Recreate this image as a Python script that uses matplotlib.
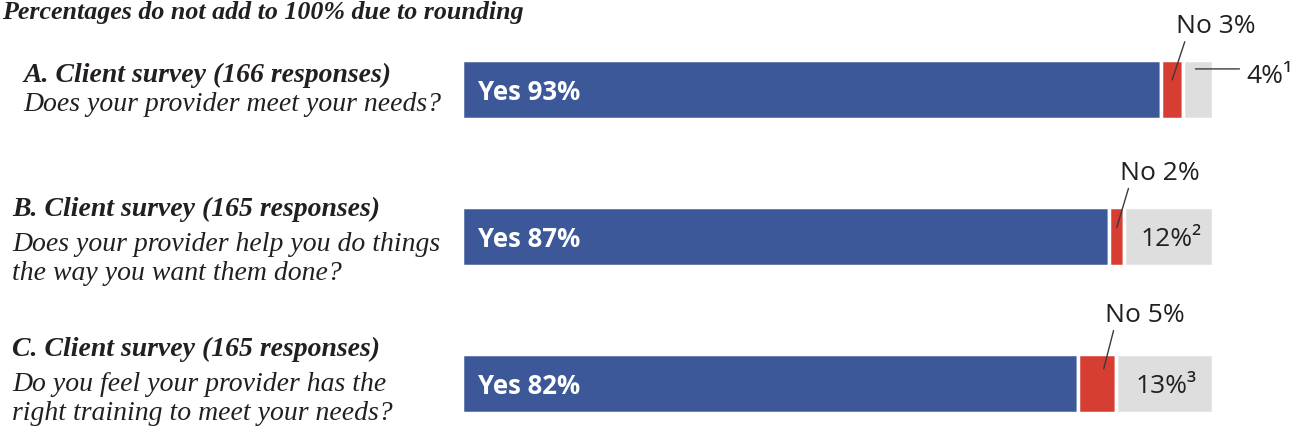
import matplotlib
matplotlib.use("Agg")
import matplotlib.pyplot as plt
import numpy as np

# ---- data ----
questions = [
    ["A. Client survey (166 responses)", "Does your provider meet your needs?"],
    ["B. Client survey (165 responses)", "Does your provider help you do things", "the way you want them done?"],
    ["C. Client survey (165 responses)", "Do you feel your provider has the", "right training to meet your needs?"],
]
yes_vals = [93, 87, 82]
no_vals = [3, 2, 5]
other_vals = [4, 12, 13]
footnotes = ["¹", "²", "³"]
note_text = "Percentages do not add to 100% due to rounding"

# ---- style ----
W, H = 1298, 434
BLUE = "#3c5898"
RED = "#d63d33"
GRAY = "#dedede"
TXT = "#231f20"
LINE = "#3a3a3a"
SERIF = "Liberation Serif"
SANS = "Open Sans"

fig = plt.figure(figsize=(W / 100, H / 100), dpi=100)
fig.patch.set_facecolor("white")

def fx(px):
    return px / W

def fy(py):
    return 1 - py / H

# bar axes
ax_left, ax_right = 461.5, 1213.5
ax_top, ax_bot = 1.3, 427.6
ax = fig.add_axes([fx(ax_left), fy(ax_bot), fx(ax_right - ax_left), (ax_bot - ax_top) / H])
ax.set_xlim(0, 100)
ax.set_ylim(2.3, -0.6)
ax.axis("off")

yes = np.array(yes_vals, float)
no = np.array(no_vals, float)
oth = np.array(other_vals, float)
tot = yes + no + oth
yes_n = yes / tot * 100
no_n = no / tot * 100
oth_n = oth / tot * 100
rows = np.arange(len(yes_vals))
bh = 0.398
ax.barh(rows, yes_n, height=bh, color=BLUE, edgecolor="white", linewidth=2.5)
ax.barh(rows, no_n, left=yes_n, height=bh, color=RED, edgecolor="white", linewidth=2.5)
ax.barh(rows, oth_n, left=yes_n + no_n, height=bh, color=GRAY, edgecolor="white", linewidth=2.5)

# Yes labels
for i in rows:
    ax.annotate(f"Yes {yes_vals[i]}%", xy=(0, i), xytext=(16, -3), textcoords="offset pixels",
                ha="left", va="center", color="white", fontsize=18.5, fontweight="bold",
                family=SANS)

# No labels with leader lines (label offsets in pixels from end point)
no_tip_dy = [-0.065, -0.06, -0.1]
no_tip_dx = [0.0, 0.0, 0.9]
no_lab_off = [(4, 41), (3, 42), (1, 41)]
for i in rows:
    xr = yes_n[i] + no_n[i] / 2 + no_tip_dx[i]
    ax.annotate(f"No {no_vals[i]}%", xy=(xr, i + no_tip_dy[i]),
                xytext=no_lab_off[i], textcoords="offset pixels",
                ha="left", va="bottom", color=TXT, fontsize=19, family=SANS,
                arrowprops=dict(arrowstyle="-", color=LINE, lw=1.0,
                                shrinkA=0, shrinkB=0, relpos=(0.12, 0.0)))

# Other labels
i = 0
xg = yes_n[i] + no_n[i] + 1.6
yl = i - 0.14
ax.annotate("", xy=(xg, yl), xytext=(44, 0), textcoords="offset pixels",
            arrowprops=dict(arrowstyle="-", color=LINE, lw=1.0, shrinkA=0, shrinkB=0))
ax.annotate(f"{other_vals[i]}%{footnotes[i]}", xy=(xg, yl), xytext=(51, -14),
            textcoords="offset pixels", ha="left", va="baseline", color=TXT, fontsize=19,
            family=SANS)
for i in rows[1:]:
    xg = yes_n[i] + no_n[i] + oth_n[i] / 2
    ax.annotate(f"{other_vals[i]}%{footnotes[i]}", xy=(xg, i), xytext=(2, -3),
                textcoords="offset pixels", ha="center", va="center", color=TXT,
                fontsize=19, family=SANS)

# left question text (baselines in pixels)
left_x = [23, 12, 12]
baselines = [[82, 111], [216, 251, 280], [356, 391, 420]]
for q, lx, bls in zip(questions, left_x, baselines):
    for j, (line, b) in enumerate(zip(q, bls)):
        fig.text(fx(lx), fy(b), line, ha="left", va="baseline", color=TXT,
                 fontsize=20, family=SERIF, style="italic",
                 fontweight="bold" if j == 0 else "normal")

fig.text(fx(2), fy(19), note_text, ha="left", va="baseline", color=TXT,
         fontsize=18.7, family=SERIF, style="italic", fontweight="bold")

fig.savefig("out.png", dpi=100, facecolor="white")
